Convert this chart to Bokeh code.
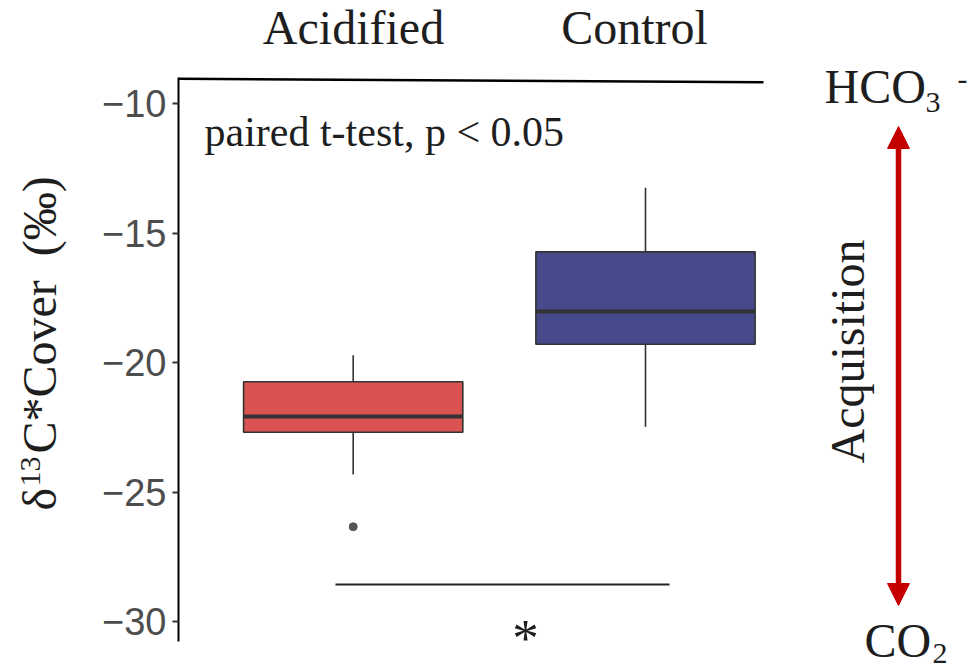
import math
from bokeh.plotting import figure
from bokeh.models import Range1d, FixedTicker, Label, Arrow, NormalHead, ColumnDataSource, LinearAxis
from bokeh.embed import file_html
from bokeh.resources import INLINE

# ---------------- data ----------------
categories = ["Acidified", "Control"]
q1 = [-22.69, -19.29]
median = [-22.08, -18.02]
q3 = [-20.74, -15.72]
whisker_low = [-24.32, -22.48]
whisker_high = [-19.71, -13.24]
outlier_cat = ["Acidified"]
outlier_val = [-26.34]
y_ticks = [-30, -25, -20, -15, -10]
y_tick_labels = ["\u221230", "\u221225", "\u221220", "\u221215", "\u221210"]
sig_text = "paired t-test, p < 0.05"

# ---------------- styles / layout ----------------
fill_colors = ["#D95353", "#474A8A"]
BOX_LINE = "#333333"
RED = "#C40000"
TXT = "#1E1E1E"
SERIF = "Liberation Serif"
W, H = 978, 671
AXIS_X, AXIS_TOP, AXIS_BOT = 178, 77, 641

def xd(px):
    return 1 + (px - 352.7) / 292.3

def yd(py):
    return -10 - (py - 103.3) / 25.885

pos = [i + 1 for i, _ in enumerate(categories)]
src = ColumnDataSource(dict(x=pos, q1=q1, q3=q3, med=median, lo=whisker_low, hi=whisker_high,
                            fill=fill_colors,
                            ml=[v - 0.375 for v in pos], mr=[v + 0.375 for v in pos]))

p = figure(width=W, height=H, output_backend="svg", toolbar_location=None,
           x_range=Range1d(xd(0), xd(W)), y_range=Range1d(yd(H), yd(0)),
           x_axis_location=None, y_axis_location=None,
           min_border_left=0, min_border_right=0, min_border_top=0, min_border_bottom=0)
p.outline_line_color = None
p.background_fill_color = "white"
p.border_fill_color = "white"
p.xgrid.visible = False
p.ygrid.visible = False

ax = LinearAxis(fixed_location=xd(AXIS_X), bounds=(yd(AXIS_BOT), yd(AXIS_TOP)))
ax.ticker = FixedTicker(ticks=y_ticks, minor_ticks=[])
ax.major_label_overrides = {t: l for t, l in zip(y_ticks, y_tick_labels)}
ax.major_label_text_font = "Liberation Sans"
ax.major_label_text_font_size = "38px"
ax.major_label_text_color = "#4D4D4D"
ax.axis_line_color = "#000000"
ax.axis_line_width = 2
ax.major_tick_line_color = "#333333"
ax.major_tick_line_width = 2
ax.major_tick_out = 6
ax.major_tick_in = 0
ax.minor_tick_line_color = None
ax.major_label_standoff = 6
p.add_layout(ax, "left")

# whiskers
p.segment(x0="x", y0="q3", x1="x", y1="hi", source=src, line_color=BOX_LINE, line_width=1.6)
p.segment(x0="x", y0="q1", x1="x", y1="lo", source=src, line_color=BOX_LINE, line_width=1.6)
# boxes
p.vbar(x="x", width=0.75, bottom="q1", top="q3", source=src, fill_color="fill",
       line_color=BOX_LINE, line_width=1.6)
# medians
p.segment(x0="ml", y0="med", x1="mr", y1="med", source=src, line_color=BOX_LINE, line_width=4)
# outlier
out_x = [pos[categories.index(c)] for c in outlier_cat]
p.scatter(x=out_x, y=outlier_val, size=8, fill_color="#555555", line_color="#555555")

# top rule and significance bar
p.segment(x0=[xd(178)], y0=[yd(78.3)], x1=[xd(763)], y1=[yd(81.7)], line_color="#000000", line_width=2.5)
p.segment(x0=[xd(335)], y0=[yd(584)], x1=[xd(669)], y1=[yd(584)], line_color="#222222", line_width=2)

# double arrow
p.add_layout(Arrow(start=NormalHead(size=22, fill_color=RED, line_color=RED, line_width=1),
                   end=NormalHead(size=22, fill_color=RED, line_color=RED, line_width=1),
                   x_start=xd(898), y_start=yd(605), x_end=xd(898), y_end=yd(126),
                   line_color=RED, line_width=5.5))

BASE_SHIFT = 0.375  # empirical offset of the rendered baseline, in em

def lab(text, px, py, size, align="left", angle=0, font=SERIF, color=TXT):
    if angle == 0:
        py = py - BASE_SHIFT * size
    else:
        px = px - BASE_SHIFT * size
    p.add_layout(Label(x=xd(px), y=yd(py), text=text, text_font=font, text_font_size=f"{size}px",
                       text_align=align, text_baseline="alphabetic", angle=angle, text_color=color))

# category labels on top
lab(categories[0], 353, 45, 48, align="center")
lab(categories[1], 634, 45, 48, align="center")
# test annotation
lab(sig_text, 204, 147, 42)
lab("*", 525, 657, 53, align="center")
# HCO3- and CO2
lab("HCO", 824, 104, 48)
lab("3", 925, 113, 30)
lab("-", 957, 90, 30)
lab("CO", 864, 658, 48)
lab("2", 932, 664, 30)
# Acquisition
lab("Acquisition", 865, 351, 48, align="center", angle=math.pi / 2)
# y axis title: δ13C*Cover (‰)
lab("\u03b4", 57, 510, 48, angle=math.pi / 2)
lab("13", 41, 486, 30, angle=math.pi / 2)
lab("C*Cover\u00a0\u00a0(\u2030)", 57, 453, 48, angle=math.pi / 2)

open("out.html", "w").write(file_html(p, INLINE))
